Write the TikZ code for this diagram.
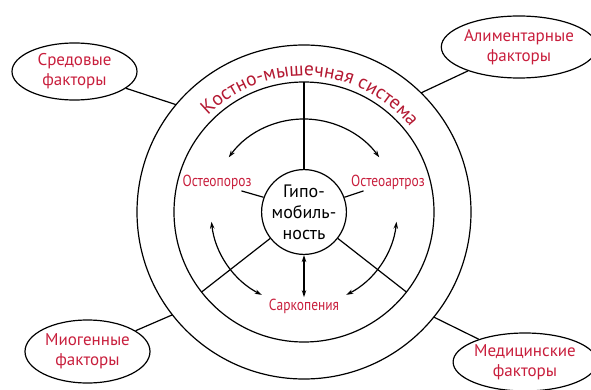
\documentclass[tikz,border=0pt]{standalone}
\usepackage{fontspec}
\setmainfont{PT Sans}
\newfontfamily\narrowpt[FakeStretch=0.84]{PT Sans}
\usepackage{tikz}
\usetikzlibrary{arrows.meta}
\usetikzlibrary{calc}
\usetikzlibrary{positioning}
\usetikzlibrary{shapes.geometric}
\usetikzlibrary{decorations.text}
\definecolor{labred}{RGB}{200,30,60}
\definecolor{arcred}{RGB}{180,25,50}

\tikzset{
  factor/.style={draw, ellipse, inner sep=0pt, align=center, text=labred,
    font=\fontsize{17}{20}\selectfont},
  disease/.style={text=labred, inner sep=1pt, font=\narrowpt\fontsize{16}{16}\selectfont},
}

\begin{document}
\begin{tikzpicture}[x=1pt, y=1pt, line width=1.2pt,
    >={Stealth[length=7pt,width=4.5pt]}] % Musculoskeletal

  \newcommand\rOut{167}
  \newcommand\rMid{130}
  \newcommand\rArr{93}

  \useasboundingbox (0,0) rectangle (591,389);
  \coordinate (c) at (304,177);

  \draw (c) circle (\rOut);
  \draw (c) circle (\rMid);

  \node [draw, circle, minimum size=82pt, inner sep=0pt, align=center,
    font=\fontsize{18}{21}\selectfont] (hypo) at (c) {Гипо-\\мобиль-\\ность};

  \node [disease] (osteo) at (217,207) {Остеопороз};
  \node [disease] (artroz) at (388,207) {Остеоартроз};
  \node [disease] (sarc) at (304,83) {Саркопения};

  % spokes to the middle ring
  \coordinate (mtop) at ($(c)+(90:\rMid)$);
  \coordinate (mleft) at ($(c)+(218:\rMid)$);
  \coordinate (mright) at ($(c)+(322:\rMid)$);
  \draw (hypo.90) -- (mtop);
  \draw (hypo.218) -- (mleft);
  \draw (hypo.322) -- (mright);

  \draw (osteo.-20) -- (hypo.160);
  \draw (artroz.200) -- (hypo.20);
  \draw [<->] (hypo.south) -- (sarc.north);

  \draw [<->] ($(c)+(144:\rArr)$) arc [start angle=144, end angle=36, radius=\rArr];
  \draw [<->] ($(c)+(186:\rArr)$) arc [start angle=186, end angle=243, radius=\rArr];
  \draw [<->] ($(c)+(-6:\rArr)$) arc [start angle=-6, end angle=-63, radius=\rArr];

  % factors
  \node [factor, minimum width=125pt, minimum height=57pt] (sred) at (74.5,317.5) {Средовые\\факторы};
  \node [factor, minimum width=142pt, minimum height=62pt] (alim) at (519,342) {Алиментарные\\факторы};
  \node [factor, minimum width=125pt, minimum height=63pt] (mio) at (87.5,37.5) {Миогенные\\факторы};
  \node [factor, minimum width=132pt, minimum height=58pt] (medic) at (525,27) {Медицинские\\факторы};

  \coordinate (osred) at ($(c)+(140:\rOut)$);
  \coordinate (oalim) at ($(c)+(45.5:\rOut)$);
  \coordinate (omio) at ($(c)+(218:\rOut)$);
  \coordinate (omedic) at ($(c)+(321:\rOut)$);
  \draw (osred) -- (sred);
  \draw (oalim) -- (alim);
  \draw (omio) -- (mio);
  \draw (omedic) -- (medic);

  \path [decorate, decoration={text along path, text align=center,
    text={|\fontsize{19.5}{19.5}\selectfont\color{arcred}|Костно-мышечная система}}]
    ($(c)+(150:136)$) arc [start angle=150, end angle=23.5, radius=136];

\end{tikzpicture}
\end{document}
